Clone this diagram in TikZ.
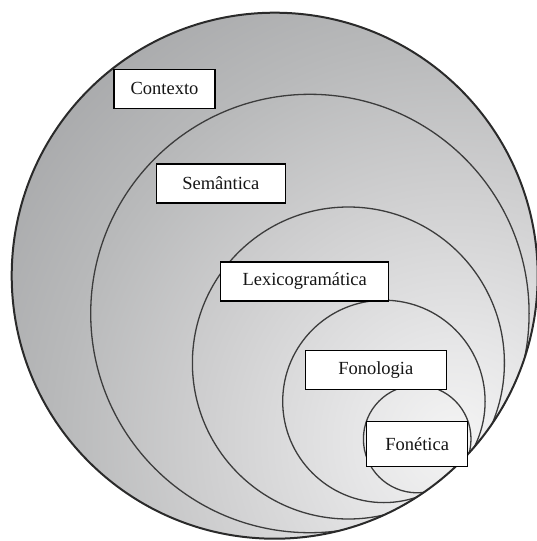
\documentclass[tikz,border=0pt]{standalone}
\usepackage{fontspec}
\setmainfont{Liberation Serif}

\definecolor{shadeA}{HTML}{F4F4F4}
\definecolor{shadeB}{HTML}{E6E6E7}
\definecolor{shadeC}{HTML}{CFCFD0}
\definecolor{shadeD}{HTML}{B8B9BA}
\definecolor{shadeE}{HTML}{A6A7A9}
\definecolor{ringline}{HTML}{3C3C3C}
\definecolor{rimline}{HTML}{2A2A2A}
\definecolor{labeltext}{HTML}{151515}

% light spot near the lower right, darkening outwards
\pgfdeclareradialshading{discshade}{\pgfpoint{0bp}{0bp}}{%
  color(0bp)=(shadeA); color(4.6bp)=(shadeB); color(11.6bp)=(shadeC);
  color(18.5bp)=(shadeD); color(25bp)=(shadeE); color(50bp)=(shadeE)}

\tikzset{
  ring/.style={draw=ringline, line width=1.3pt},
  rim/.style={draw=rimline, line width=2pt},
  levelbox/.style={draw=black, line width=1.2pt, fill=white, rectangle,
    inner sep=0pt, text=labeltext,
    font=\fontsize{18.5}{20}\selectfont},
}

\begin{document}
\begin{tikzpicture}[x=1pt, y=-1pt]
  \useasboundingbox (0,0) rectangle (536,541);

  \begin{scope}
    \clip (274.7,275.7) circle (263);
    \shade[shading=discshade] (455,440) circle (540);
    % nested strata, each one inside the previous
    \draw[ring] (309.9,313.5) circle (219.2); % semantics
    \draw[ring] (348.4,363.0) circle (156.0); % lexicogrammar
    \draw[ring] (383.9,401.4) circle (101.2); % phonology
    \draw[ring] (417.2,439.0) circle (53.8);  % phonetics
  \end{scope}
  % context: the enclosing disc
  \draw[rim] (274.7,275.7) circle (263);

  \node[levelbox, minimum width=101pt, minimum height=39pt]
    (contexto) at (164.5,88.8) {Contexto};
  \node[levelbox, minimum width=129pt, minimum height=39pt]
    (semantica) at (220.8,183.5) {Semântica};
  \node[levelbox, minimum width=168pt, minimum height=39pt]
    (lexico) at (304.7,281.4) {Lexicogramática};
  \node[levelbox, minimum width=141pt, minimum height=39pt]
    (fonologia) at (375.8,369.7) {Fonologia};
  \node[levelbox, minimum width=101pt, minimum height=45pt]
    (fonetica) at (417.2,444.2) {Fonética};
\end{tikzpicture}
\end{document}
